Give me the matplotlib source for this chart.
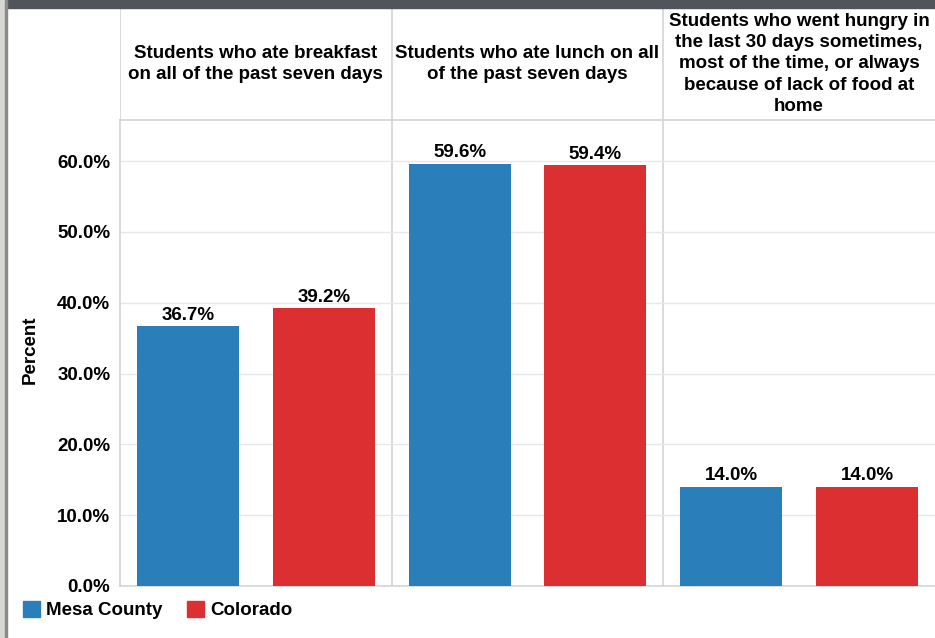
import numpy as np
import matplotlib
matplotlib.use('Agg')
import matplotlib.pyplot as plt
import matplotlib.patches as mpatches

plt.rcParams['font.family'] = ['Liberation Sans', 'DejaVu Sans']
plt.rcParams['font.weight'] = 'bold'

# data
categories = ['Students who ate breakfast\non all of the past seven days',
              'Students who ate lunch on all\nof the past seven days',
              'Students who went hungry in\nthe last 30 days sometimes,\nmost of the time, or always\nbecause of lack of food at\nhome']
series_names = ['Mesa County', 'Colorado']
mesa = [36.7, 59.6, 14.0]
colorado = [39.2, 59.4, 14.0]
yticks = [0, 10, 20, 30, 40, 50, 60]

blue = '#2a7fba'
red = '#db2f32'
grid_col = '#e8e8e8'
sep_col = '#d4d4d4'
fs = 13.5

W, H = 935, 638
fig = plt.figure(figsize=(W / 100, H / 100), dpi=100)
fig.patch.set_facecolor('white')

def box(x0, y0, x1, y1):
    # pixel box (top-left origin) -> figure fraction
    return [x0 / W, 1 - y1 / H, (x1 - x0) / W, (y1 - y0) / H]

# window chrome: dark top bar and left strip
fig.patches.append(mpatches.Rectangle((0, 1 - 8 / H), 1, 8 / H, transform=fig.transFigure,
                                      color='#50545b', zorder=0))
fig.patches.append(mpatches.Rectangle((0, 0), 5 / W, 1, transform=fig.transFigure,
                                      color='#d6d6d2', zorder=0))
fig.patches.append(mpatches.Rectangle((5 / W, 0), 2 / W, 1, transform=fig.transFigure,
                                      color='#8a8a8a', zorder=0))

x = np.arange(len(categories))
bw = 0.375

ax = fig.add_axes(box(120, 120, 935, 586))
ax.bar(x - 0.25, mesa, bw, color=blue, zorder=3)
ax.bar(x + 0.25, colorado, bw, color=red, zorder=3)
for i in range(len(x)):
    ax.text(x[i] - 0.25, mesa[i] + 0.35, '%.1f%%' % mesa[i], ha='center', va='bottom',
            fontsize=fs, fontweight='bold')
    ax.text(x[i] + 0.25, colorado[i] + 0.35, '%.1f%%' % colorado[i], ha='center', va='bottom',
            fontsize=fs, fontweight='bold')

ax.set_xlim(-0.5, 2.5)
ax.set_ylim(0, 65.8)
ax.set_xticks([])
ax.set_yticks(yticks)
ax.set_yticklabels(['%.1f%%' % v for v in yticks], fontsize=fs, fontweight='bold')
ax.tick_params(axis='y', length=0, pad=7)
ax.yaxis.grid(True, color=grid_col, linewidth=1, zorder=0)
for xs in [0.5, 1.5]:
    ax.axvline(xs, color=sep_col, linewidth=1.2, zorder=1)
for s in ['left', 'bottom', 'top']:
    ax.spines[s].set_color(sep_col)
    ax.spines[s].set_linewidth(1.2)
ax.spines['right'].set_visible(False)

fig.text(30 / W, 1 - 350 / H, 'Percent', rotation=90, ha='center', va='center',
         fontsize=fs, fontweight='bold')

# header row
hx = fig.add_axes(box(120, 8, 935, 120))
hx.set_xlim(-0.5, 2.5)
hx.set_ylim(0, 1)
hx.axis('off')
for xs in [-0.5, 0.5, 1.5]:
    hx.axvline(xs, color=sep_col, linewidth=1.2)
for i, c in enumerate(categories):
    hx.text(i, 0.5, c, ha='center', va='center', fontsize=fs, fontweight='bold',
            linespacing=1.33)

handles = [mpatches.Patch(color=blue, label=series_names[0]),
           mpatches.Patch(color=red, label=series_names[1])]
fig.legend(handles=handles, loc='center left', bbox_to_anchor=(6 / W, 1 - 610 / H), ncol=2,
           frameon=False, prop={'weight': 'bold', 'size': fs},
           handlelength=0.9, handleheight=0.95, handletextpad=0.35, columnspacing=1.3)

fig.savefig('out.png', dpi=100)
